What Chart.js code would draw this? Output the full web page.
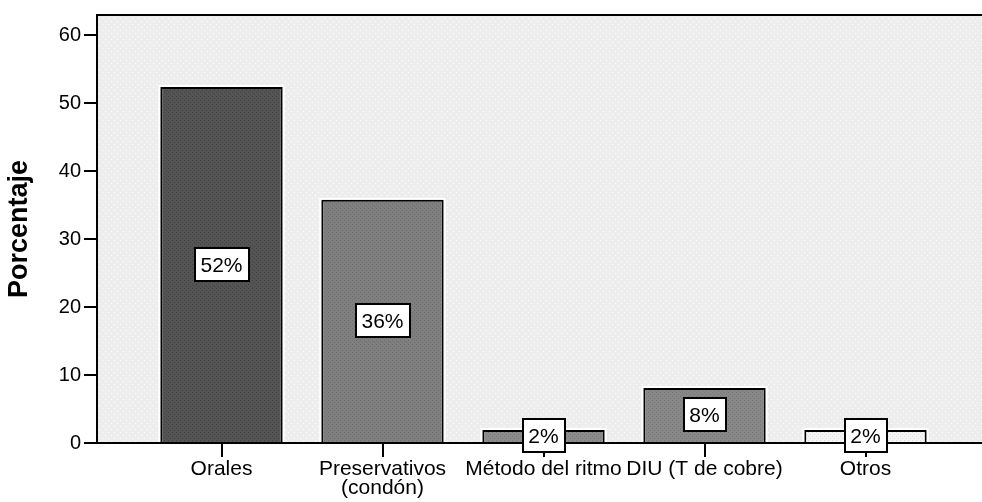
<!DOCTYPE html>
<html>
<head>
<meta charset="utf-8">
<script src="https://cdn.jsdelivr.net/npm/chart.js@4"></script>
<style>
  html, body { margin: 0; padding: 0; background: #fff; overflow: hidden; }
</style>
</head>
<body>
<canvas id="metodosChart" width="982" height="502"></canvas>
<script>
// datos
var categorias = ["Orales", ["Preservativos", "(condón)"], "Método del ritmo", "DIU (T de cobre)", "Otros"];
var porcentajes = [52.4, 35.8, 1.9, 8.1, 1.9];
var ticksY = [0, 10, 20, 30, 40, 50, 60];

var patron = function(base, punto, w, h) {
  var c = document.createElement("canvas");
  c.width = w;
  c.height = h;
  var g = c.getContext("2d");
  g.fillStyle = base;
  g.fillRect(0, 0, w, h);
  g.fillStyle = punto;
  g.fillRect(0, 0, 1, 1);
  g.fillRect(Math.floor(w / 2), Math.floor(h / 2), 1, 1);
  return g.createPattern(c, "repeat");
};

var fondo = patron("#ededed", "#ffffff", 6, 6);
var coloresBarras = [
  patron("#545454", "#404040", 4, 4),
  patron("#7f7f7f", "#6c6c6c", 4, 4),
  patron("#8b8b8b", "#7a7a7a", 4, 4),
  patron("#878787", "#777777", 4, 4),
  patron("#f4f4f4", "#dddddd", 4, 4)
];

var fuente = "Liberation Sans, Arial, sans-serif";

// fondo punteado del area y halo blanco de las barras
const marcoPlugin = {
  id: "marco",
  beforeDraw(chart) {
    var ctx = chart.ctx, a = chart.chartArea;
    ctx.save();
    ctx.fillStyle = fondo;
    ctx.fillRect(a.left, a.top, chart.width - a.left, a.bottom - a.top);
    ctx.restore();
  },
  beforeDatasetsDraw(chart) {
    var ctx = chart.ctx;
    ctx.save();
    ctx.strokeStyle = "#ffffff";
    ctx.lineWidth = 4;
    chart.getDatasetMeta(0).data.forEach(function(bar) {
      ctx.strokeRect(bar.x - bar.width / 2, bar.y, bar.width, bar.base - bar.y);
    });
    ctx.restore();
  },
  afterDatasetsDraw(chart) {
    var ctx = chart.ctx, a = chart.chartArea;
    ctx.save();
    ctx.strokeStyle = "#000";
    ctx.lineWidth = 2;
    ctx.beginPath();
    ctx.moveTo(a.left, a.bottom);
    ctx.lineTo(chart.width, a.bottom);
    ctx.moveTo(a.left, a.bottom);
    ctx.lineTo(a.left, a.top);
    ctx.lineTo(chart.width, a.top);
    ctx.stroke();

    // etiquetas de porcentaje en caja blanca
    ctx.font = "21px " + fuente;
    ctx.textAlign = "center";
    ctx.textBaseline = "middle";
    chart.getDatasetMeta(0).data.forEach(function(bar, i) {
      var txt = Math.round(porcentajes[i]) + "%";
      var tw = ctx.measureText(txt).width;
      var bw = Math.round(tw + 12), bh = 33;
      var cy = Math.round((bar.y + bar.base) / 2);
      var x0 = Math.round(bar.x - bw / 2), y0 = cy - Math.round(bh / 2);
      ctx.fillStyle = "#fff";
      ctx.fillRect(x0, y0, bw, bh);
      ctx.lineWidth = 2;
      ctx.strokeStyle = "#000";
      ctx.strokeRect(x0, y0, bw, bh);
      ctx.fillStyle = "#000";
      ctx.fillText(txt, bar.x, cy + 1);
    });
    ctx.restore();
  },
  // el eje de categorias no empieza en el borde del area
  afterLayout(chart) {
    var x = chart.scales.x;
    var ancho = 161 * categorias.length;
    x.left = chart.chartArea.left + 44;
    x.right = x.left + ancho;
    x.width = ancho;
    x.configure();
  }
};

const dataMetodos = {
  labels: categorias,
  datasets: [
    {
      label: "Porcentaje",
      data: porcentajes,
      backgroundColor: coloresBarras,
      borderColor: "#000",
      borderWidth: 2,
      categoryPercentage: 1,
      barPercentage: 0.76
    }
  ]
};

const configMetodos = {
  type: "bar",
  data: dataMetodos,
  options: {
    responsive: false,
    animation: false,
    layout: { padding: { top: 11, right: 0, left: 0, bottom: 0 } },
    plugins: {
      legend: { display: false },
      tooltip: { enabled: false }
    },
    scales: {
      x: {
        offset: true,
        border: { display: false },
        grid: {
          display: true,
          offset: false,
          drawOnChartArea: false,
          drawTicks: true,
          tickLength: 14,
          color: "#000",
          lineWidth: 2
        },
        ticks: {
          color: "#000",
          padding: 3,
          maxRotation: 0,
          autoSkip: false,
          font: { family: fuente, size: 21, lineHeight: 0.9 }
        },
        afterFit: function(scale) { scale.height = 59; }
      },
      y: {
        min: 0,
        max: 63,
        border: { display: false },
        grid: {
          drawOnChartArea: false,
          drawTicks: true,
          tickLength: 13,
          color: "#000",
          lineWidth: 2
        },
        ticks: {
          color: "#000",
          padding: 3,
          font: { family: fuente, size: 20 }
        },
        afterBuildTicks: function(scale) {
          scale.ticks = ticksY.map(function(v) { return { value: v }; });
        },
        title: {
          display: true,
          text: "Porcentaje",
          color: "#000",
          padding: { top: 3, bottom: 0 },
          font: { family: fuente, size: 27, weight: "bold" }
        },
        afterFit: function(scale) { scale.width = 97; }
      }
    }
  },
  plugins: [marcoPlugin]
};

var metodosChart = new Chart(document.getElementById("metodosChart"), configMetodos);
</script>
</body>
</html>
